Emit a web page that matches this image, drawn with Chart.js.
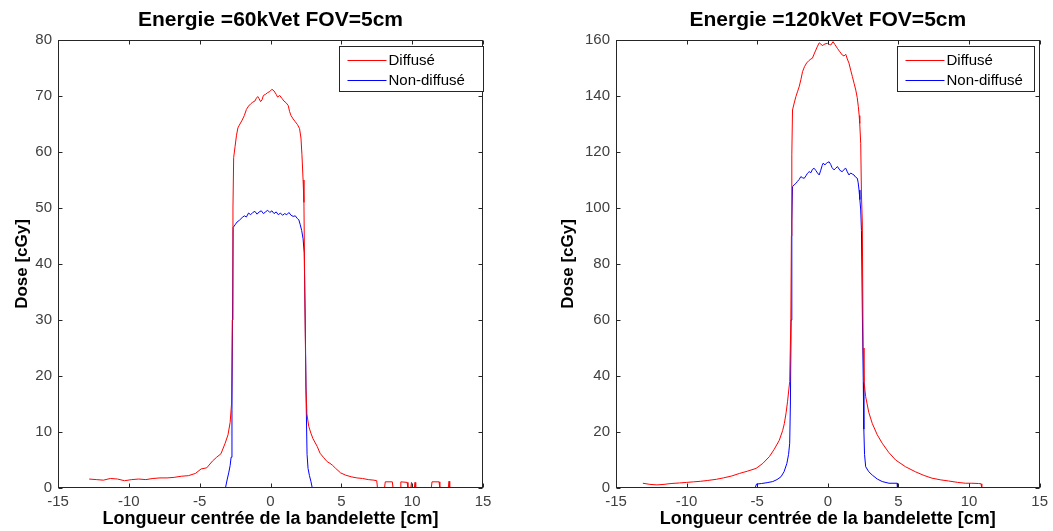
<!DOCTYPE html>
<html>
<head>
<meta charset="utf-8">
<script src="https://cdn.jsdelivr.net/npm/chart.js@4.4.0/dist/chart.umd.min.js"></script>
<style>
  html, body { margin: 0; padding: 0; background: #fff; }
  #wrap { position: relative; width: 1053px; height: 531px; }
  .box { position: absolute; top: 0; height: 531px; }
  #boxLeft { left: 0; width: 526px; }
  #boxRight { left: 526px; width: 527px; }
</style>
</head>
<body>
<div id="wrap">
  <div class="box" id="boxLeft"><canvas id="chart60"></canvas></div>
  <div class="box" id="boxRight"><canvas id="chart120"></canvas></div>
</div>
<script>
// 60 kV - diffusé
const xDiff60 = [-12.8, -12.3, -11.8, -11.3, -10.8, -10.3, -9.8, -9.3, -8.8, -8.3, -7.8, -7.3, -6.8, -6.3, -5.8, -5.3, -4.9, -4.5, -4.1, -3.8, -3.5, -3.2, -3.0, -2.85, -2.75, -2.7, -2.65, -2.6, -2.5, -2.4, -2.3, -2.2, -2.0, -1.85, -1.7, -1.55, -1.4, -1.25, -1.1, -1.0, -0.9, -0.8, -0.7, -0.6, -0.5, -0.35, -0.2, -0.05, 0.1, 0.25, 0.4, 0.5, 0.65, 0.8, 0.95, 1.1, 1.25, 1.35, 1.45, 1.6, 1.75, 1.9, 2.05, 2.15, 2.22, 2.3, 2.36, 2.42, 2.5, 2.57, 2.7, 2.85, 3.0, 3.3, 3.5, 3.76, 4.0, 4.2, 4.36, 4.6, 4.95, 5.3, 5.7, 6.1, 6.5, 6.9, 7.3, 7.5, 7.55, 8.05, 8.1, 8.6, 8.65, 9.15, 9.2, 9.65, 9.7, 9.9, 9.95, 10.0, 10.15, 10.2, 10.25, 11.35, 11.4, 11.9, 11.95, 12.55, 12.6, 12.65];
const yDiff60 = [1.6, 1.5, 1.4, 1.7, 1.6, 1.3, 1.5, 1.6, 1.5, 1.7, 1.8, 1.8, 1.9, 2.1, 2.2, 2.6, 3.4, 3.6, 4.8, 5.5, 6.1, 8.0, 9.5, 11.7, 15, 30, 50, 59, 61, 63, 64.3, 64.8, 65.7, 66.5, 67.6, 68.2, 68.6, 68.9, 69.1, 69.6, 69.9, 69.5, 69.0, 69.3, 70.1, 70.3, 70.6, 70.8, 71.2, 70.9, 70.3, 69.8, 70.1, 69.6, 69.1, 68.8, 68.3, 67.2, 66.5, 65.9, 65.4, 64.9, 64.2, 62.5, 59.5, 55, 51, 35, 18, 13.2, 11, 9.8, 8.8, 7.4, 6.2, 5.4, 4.7, 4.4, 4.1, 3.5, 2.7, 2.3, 2.0, 1.8, 1.7, 1.5, 1.4, 1.3, 0, 0, 1.1, 1.1, 0, 0, 1.1, 1.0, 0, 0, 1.0, 0, 0, 1.0, 0, 0, 1.1, 1.1, 0, 0, 1.2, 0];

// 60 kV - non-diffusé
const xNon60 = [-3.18, -3.05, -2.95, -2.85, -2.78, -2.72, -2.68, -2.64, -2.5, -2.36, -2.2, -2.0, -1.85, -1.7, -1.55, -1.4, -1.25, -1.1, -0.95, -0.8, -0.65, -0.5, -0.35, -0.2, -0.05, 0.1, 0.25, 0.4, 0.55, 0.7, 0.85, 1.0, 1.15, 1.3, 1.45, 1.6, 1.75, 1.9, 2.0, 2.1, 2.2, 2.3, 2.38, 2.45, 2.52, 2.58, 2.65, 2.75, 2.85, 2.95];
const yNon60 = [0, 1.6, 2.7, 4.0, 5.5, 14, 30, 46.5, 47.0, 47.5, 47.8, 48.3, 48.6, 48.4, 49.1, 48.8, 49.2, 49.4, 48.9, 49.3, 49.5, 49.0, 49.3, 49.6, 49.2, 49.5, 49.0, 49.3, 48.8, 49.1, 48.7, 49.0, 48.8, 49.2, 48.7, 48.5, 48.6, 48.1, 47.9, 47.0, 46.0, 44.5, 42, 30, 15, 6, 3.5, 2.2, 1.2, 0];

// 120 kV - diffusé
const xDiff120 = [-13.1, -12.6, -12.1, -11.6, -11.1, -10.5, -10, -9.5, -9, -8.5, -7.9, -7.4, -6.8, -6.26, -5.7, -5.08, -4.6, -4.14, -3.8, -3.44, -3.2, -3.08, -2.95, -2.85, -2.7, -2.62, -2.58, -2.55, -2.5, -2.38, -2.26, -2.15, -2.03, -1.9, -1.79, -1.65, -1.5, -1.35, -1.2, -1.09, -0.97, -0.85, -0.73, -0.61, -0.5, -0.4, -0.33, -0.2, -0.03, 0.1, 0.21, 0.3, 0.37, 0.5, 0.68, 0.85, 1.03, 1.15, 1.27, 1.38, 1.5, 1.62, 1.74, 1.86, 1.98, 2.08, 2.16, 2.22, 2.26, 2.33, 2.38, 2.44, 2.5, 2.56, 2.68, 2.9, 3.15, 3.5, 3.85, 4.3, 4.8, 5.5, 6.2, 6.8, 7.38, 8.0, 8.56, 9.2, 9.74, 10.2, 10.68, 10.85, 10.9];
const yDiff120 = [1.7, 1.3, 1.1, 1.3, 1.6, 1.8, 2.0, 2.2, 2.4, 2.7, 3.1, 3.6, 4.3, 5.2, 6.0, 7.0, 8.8, 11.2, 13.8, 17, 20.5, 23, 27, 31, 38, 60, 90, 119, 135, 137.5, 139.8, 141.5, 143.3, 146, 148.7, 150.5, 151.8, 152.6, 153.2, 153.5, 155, 156.4, 157.8, 159, 158.6, 158.0, 158.2, 158.6, 158.8, 158.4, 158.2, 158.9, 159.4, 158.4, 157, 155.8, 154.6, 154.3, 154.9, 153.2, 151.7, 149.2, 146.9, 144.5, 142.1, 139.5, 136.2, 133, 130.2, 123, 105, 95, 50, 38, 32.6, 27, 23, 19, 16, 12.8, 10, 7.6, 5.8, 4.5, 3.5, 2.9, 2.5, 2.0, 1.7, 1.7, 1.6, 1.5, 0];

// 120 kV - non-diffusé
const xNon120 = [-5.15, -5.05, -4.7, -4.3, -3.9, -3.6, -3.32, -3.1, -2.9, -2.78, -2.7, -2.65, -2.6, -2.55, -2.5, -2.38, -2.26, -2.15, -2.03, -1.91, -1.79, -1.67, -1.55, -1.44, -1.32, -1.2, -1.09, -0.97, -0.85, -0.73, -0.61, -0.5, -0.4, -0.33, -0.2, -0.1, 0.0, 0.09, 0.2, 0.3, 0.44, 0.56, 0.68, 0.8, 0.91, 1.03, 1.15, 1.27, 1.38, 1.5, 1.62, 1.74, 1.85, 1.97, 2.09, 2.15, 2.21, 2.27, 2.33, 2.38, 2.45, 2.51, 2.55, 2.6, 2.68, 2.9, 3.15, 3.5, 3.85, 4.33, 4.91, 4.93];
const yNon120 = [0, 1.4, 1.6, 1.9, 2.3, 3.0, 4.0, 5.8, 8.8, 12, 16, 30, 60, 95, 107.6, 108.3, 108.8, 109.5, 110.2, 111.2, 110.8, 110.6, 111.5, 112.4, 113, 112.6, 113.8, 114.2, 113.4, 112.5, 111.8, 113.5, 115.2, 116, 115.4, 116.0, 116.3, 116.5, 115.6, 114.4, 113.6, 114.2, 114.8, 113.9, 113.2, 113, 113.8, 114.2, 112.9, 111.8, 112.5, 112.1, 111.8, 111.0, 110.6, 109, 106.4, 103, 99.3, 92, 60, 38, 21, 12, 7.6, 5.8, 4.6, 3.2, 2.3, 1.7, 1.7, 0];

const seriesLabels = ['Diffusé', 'Non-diffusé'];
const FONT = "'Liberation Sans', Arial, Helvetica, sans-serif";

// cadre + graduations vers l'intérieur (style MATLAB)
const framePlugin = {
    id: 'matlabFrame',
    afterDatasetsDraw(chart) {
        const { ctx, chartArea: a } = chart;
        const xs = chart.scales.x, ys = chart.scales.y;
        const L = Math.round(a.left) + 0.5, R = Math.round(a.right) - 0.5;
        const T = Math.round(a.top) + 0.5, B = Math.round(a.bottom) - 0.5;
        ctx.save();
        ctx.strokeStyle = '#262626';
        ctx.lineWidth = 1;
        ctx.strokeRect(L, T, R - L, B - T);
        ctx.beginPath();
        xs.ticks.forEach(t => {
            const px = Math.round(xs.getPixelForValue(t.value)) + 0.5;
            ctx.moveTo(px, B); ctx.lineTo(px, B - 4);
            ctx.moveTo(px, T); ctx.lineTo(px, T + 4);
        });
        ys.ticks.forEach(t => {
            const py = Math.round(ys.getPixelForValue(t.value)) + 0.5;
            ctx.moveTo(L, py); ctx.lineTo(L + 4, py);
            ctx.moveTo(R, py); ctx.lineTo(R - 4, py);
        });
        ctx.stroke();
        ctx.restore();
    }
};

// légende encadrée dans la zone de tracé
const boxLegendPlugin = {
    id: 'boxLegend',
    afterDraw(chart, args, opts) {
        const { ctx, chartArea: a } = chart;
        const left = Math.round(a.right - opts.fromRight) + 0.5;
        const top = Math.round(a.top + 6) + 0.5;
        ctx.save();
        ctx.fillStyle = '#fff';
        ctx.fillRect(left, top, opts.width, 45);
        ctx.strokeStyle = '#262626';
        ctx.lineWidth = 1;
        ctx.strokeRect(left, top, opts.width, 45);
        ctx.font = '15px ' + FONT;
        ctx.textBaseline = 'middle';
        chart.data.datasets.forEach((ds, i) => {
            const yy = Math.round(top + 13 + i * 20) + 0.5;
            ctx.strokeStyle = ds.borderColor;
            ctx.beginPath();
            ctx.moveTo(left + 8, yy);
            ctx.lineTo(left + 47, yy);
            ctx.stroke();
            ctx.fillStyle = '#000';
            ctx.fillText(ds.label, left + 49, yy);
        });
        ctx.restore();
    }
};

function toPoints(xs, ys) {
    return xs.map((v, i) => ({ x: v, y: ys[i] }));
}

function makeChart(id, title, diff, non, yMax, yStep, cfg) {
    const ctx = document.getElementById(id).getContext('2d');
    return new Chart(ctx, {
        type: 'line',
        data: {
            datasets: [
                { label: seriesLabels[0], data: diff, borderColor: '#ff0000', borderWidth: 1, pointRadius: 0, tension: 0 },
                { label: seriesLabels[1], data: non, borderColor: '#0000ff', borderWidth: 1, pointRadius: 0, tension: 0 }
            ]
        },
        options: {
            responsive: true,
            maintainAspectRatio: false,
            animation: false,
            layout: { padding: { left: cfg.padLeft, right: cfg.padRight, top: 0, bottom: 0 } },
            scales: {
                x: {
                    type: 'linear',
                    min: -15, max: 15,
                    grid: { display: false, drawTicks: false },
                    border: { display: false },
                    ticks: { stepSize: 5, autoSkip: false, maxRotation: 0, padding: 5, color: '#404040', font: { family: FONT, size: 15 } },
                    title: { display: true, text: 'Longueur centrée de la bandelette [cm]', color: '#000', padding: { top: 0, bottom: 1 }, font: { family: FONT, size: 18, weight: 'bold' } },
                    afterFit: s => { s.height = 43; }
                },
                y: {
                    min: 0, max: yMax,
                    grid: { display: false, drawTicks: false },
                    border: { display: false },
                    ticks: { stepSize: yStep, padding: 6, color: '#404040', font: { family: FONT, size: 15 } },
                    title: { display: true, text: 'Dose [cGy]', color: '#000', padding: { top: 0, bottom: 0 }, font: { family: FONT, size: 17, weight: 'bold' } },
                    afterFit: s => { s.width = cfg.yWidth; }
                }
            },
            plugins: {
                legend: { display: false },
                tooltip: { enabled: false },
                title: {
                    display: true,
                    text: title,
                    fullSize: false,
                    color: '#000',
                    font: { family: FONT, size: 21, weight: 'bold' },
                    padding: { top: 8, bottom: 6.8 }
                },
                boxLegend: cfg.legend
            }
        },
        plugins: [framePlugin, boxLegendPlugin]
    });
}

makeChart('chart60', 'Energie =60kVet FOV=5cm', toPoints(xDiff60, yDiff60), toPoints(xNon60, yNon60), 80, 10,
    { padLeft: 12, padRight: 43, yWidth: 46, legend: { fromRight: 144, width: 144 } });
makeChart('chart120', 'Energie =120kVet FOV=5cm', toPoints(xDiff120, yDiff120), toPoints(xNon120, yNon120), 160, 20,
    { padLeft: 32, padRight: 12, yWidth: 58, legend: { fromRight: 143, width: 137 } });
</script>
</body>
</html>
